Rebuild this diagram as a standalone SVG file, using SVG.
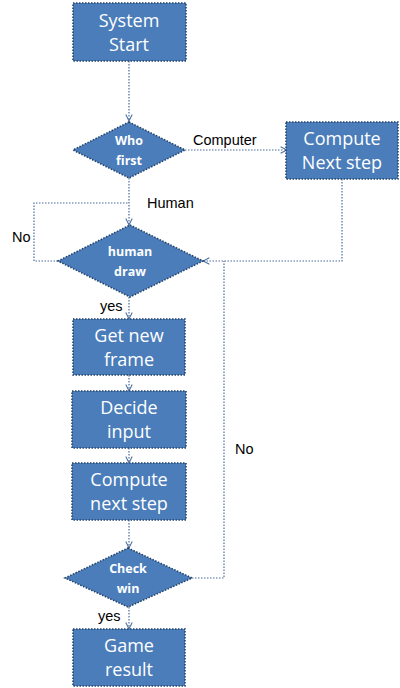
<svg xmlns="http://www.w3.org/2000/svg" width="400" height="688" viewBox="0 0 400 688">
<defs>
<style>
.box{fill:#4A7DBA;stroke:#25446C;stroke-width:1.6;stroke-dasharray:1.5 1.5}
.bt{font-family:"Open Sans","Liberation Sans",sans-serif;font-size:18px;font-weight:normal;fill:#FFFFFF;text-anchor:middle}
.dt{font-family:"Open Sans","Liberation Sans",sans-serif;font-size:12.5px;font-weight:bold;fill:#FFFFFF;text-anchor:middle}
.lbl{font-family:"Liberation Sans",Arial,sans-serif;font-size:14.5px;fill:#000000}
.con{fill:none;stroke:#4A6D9C;stroke-width:1.2;stroke-dasharray:1.5 1.5}
</style>
<marker id="arr" viewBox="0 0 10 10" refX="9" refY="5" markerWidth="8" markerHeight="8" orient="auto" markerUnits="userSpaceOnUse">
<path d="M1,1 L9,5 L1,9" fill="none" stroke="#4A6D9C" stroke-width="1.3"/>
</marker>
</defs>
<rect width="400" height="688" fill="#FFFFFF"/>
<g id="connectors">
<path class="con" d="M129,61 L129,121" marker-end="url(#arr)"/>
<path class="con" d="M185,150 L287,150" marker-end="url(#arr)"/>
<path class="con" d="M129,178 L129,225" marker-end="url(#arr)"/>
<path class="con" d="M58,261 L34,261 L34,203 L129,203"/>
<path class="con" d="M342,179 L342,261 L203,261" marker-end="url(#arr)"/>
<path class="con" d="M129,297 L129,319" marker-end="url(#arr)"/>
<path class="con" d="M129,375 L129,391" marker-end="url(#arr)"/>
<path class="con" d="M129,448 L129,463" marker-end="url(#arr)"/>
<path class="con" d="M129,520 L129,548" marker-end="url(#arr)"/>
<path class="con" d="M192,578 L224,578 L224,261"/>
<path class="con" d="M129,607 L129,629" marker-end="url(#arr)"/>
</g>
<g id="labels">
<text class="lbl" x="193" y="145">Computer</text>
<text class="lbl" x="147" y="208">Human</text>
<text class="lbl" x="12" y="242">No</text>
<text class="lbl" x="100" y="311">yes</text>
<text class="lbl" x="235" y="454">No</text>
<text class="lbl" x="98" y="621">yes</text>
</g>
<g id="system-start">
<rect class="box" x="73" y="3" width="113" height="58"/>
<text class="bt" x="129" y="27">System</text>
<text class="bt" x="129" y="51">Start</text>
</g>
<g id="who-first">
<polygon class="box" points="129,122 185,150 129,178 73,150"/>
<text class="dt" x="129" y="145">Who</text>
<text class="dt" x="129" y="165">first</text>
</g>
<g id="compute-next-step-1">
<rect class="box" x="286" y="122" width="112" height="57"/>
<text class="bt" x="342" y="145">Compute</text>
<text class="bt" x="342" y="169">Next step</text>
</g>
<g id="human-draw">
<polygon class="box" points="130,225 203,261 130,297 58,261"/>
<text class="dt" x="130" y="256">human</text>
<text class="dt" x="130" y="276">draw</text>
</g>
<g id="get-new-frame">
<rect class="box" x="73" y="319" width="112" height="56"/>
<text class="bt" x="129" y="342">Get new</text>
<text class="bt" x="129" y="366">frame</text>
</g>
<g id="decide-input">
<rect class="box" x="72" y="391" width="114" height="57"/>
<text class="bt" x="129" y="414">Decide</text>
<text class="bt" x="129" y="438">input</text>
</g>
<g id="compute-next-step-2">
<rect class="box" x="72" y="463" width="114" height="57"/>
<text class="bt" x="129" y="486">Compute</text>
<text class="bt" x="129" y="510">next step</text>
</g>
<g id="check-win">
<polygon class="box" points="128,548 192,578 128,607 65,578"/>
<text class="dt" x="128" y="573">Check</text>
<text class="dt" x="128" y="593">win</text>
</g>
<g id="game-result">
<rect class="box" x="73" y="629" width="112" height="57"/>
<text class="bt" x="129" y="652">Game</text>
<text class="bt" x="129" y="676">result</text>
</g>
</svg>
